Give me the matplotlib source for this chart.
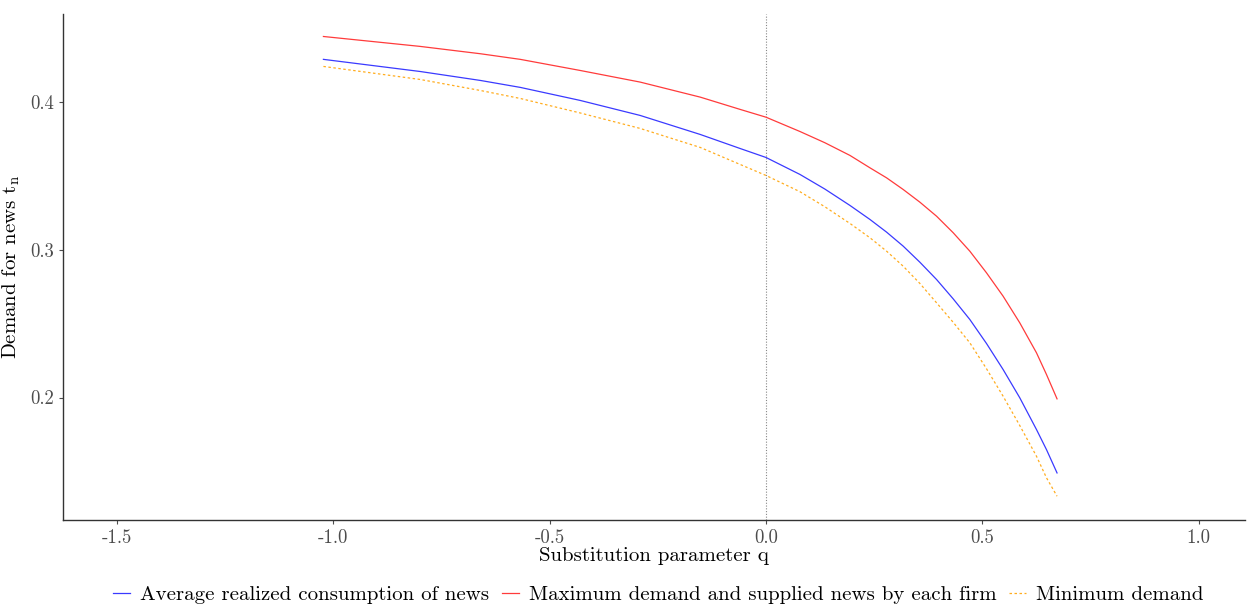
import numpy as np
import matplotlib
matplotlib.use('Agg')
from matplotlib import pyplot as plt

# values
q = [-1.023, -0.80, -0.66, -0.568, -0.43, -0.291, -0.152, -0.06, 0.0,
     0.0785, 0.136, 0.194, 0.2402, 0.2787, 0.3171, 0.3557, 0.3942, 0.4326, 0.4711,
     0.5097, 0.548, 0.5866, 0.6252, 0.6483, 0.6727]
avg_demand = [0.4292, 0.4210, 0.4149, 0.4102, 0.4014, 0.3912, 0.3783, 0.3688, 0.3627,
              0.3512, 0.3413, 0.3302, 0.3207, 0.3121, 0.3026, 0.2917, 0.2800, 0.2669, 0.2529,
              0.2366, 0.2190, 0.1998, 0.1783, 0.1647, 0.1489]
max_demand = [0.4447, 0.4380, 0.4330, 0.4292, 0.4217, 0.4138, 0.4036, 0.3953, 0.3900,
              0.3803, 0.3727, 0.3641, 0.3557, 0.3489, 0.3410, 0.3324, 0.3229, 0.3117, 0.2992,
              0.2845, 0.2687, 0.2506, 0.2303, 0.2156, 0.1991]
min_demand = [0.4244, 0.4156, 0.4081, 0.4027, 0.3929, 0.3824, 0.3695, 0.3580, 0.3505,
              0.3395, 0.3293, 0.3180, 0.3083, 0.2992, 0.2890, 0.2773, 0.2642, 0.2510, 0.2371,
              0.2195, 0.2009, 0.1810, 0.1602, 0.1456, 0.1331]

labels = ['Average realized consumption of news',
          'Maximum demand and supplied news by each firm',
          'Minimum demand']
xticks = [-1.5, -1.0, -0.5, 0.0, 0.5, 1.0]
yticks = [0.2, 0.3, 0.4]

plt.rcParams['font.family'] = 'cmr10'
plt.rcParams['mathtext.fontset'] = 'cm'
plt.rcParams['axes.unicode_minus'] = False
plt.rcParams['axes.formatter.use_mathtext'] = True

fig = plt.figure(figsize=(12.47, 6.05), dpi=100)
ax = fig.add_axes([0.0505, 0.1405, 0.9475, 0.8365])

ax.axvline(0, color='#888888', linestyle=(0, (1, 1.5)), linewidth=0.8)
ax.plot(q, avg_demand, color='#3a3aff', linewidth=0.9, label=labels[0])
ax.plot(q, max_demand, color='#ff3b3b', linewidth=0.9, label=labels[1])
ax.plot(q, min_demand, color='#ffad1f', linewidth=0.9, linestyle=(0, (2, 2)), label=labels[2])

ax.set_xlim(-1.625, 1.106)
ax.set_ylim(0.117, 0.460)
ax.set_xticks(xticks)
ax.set_xticklabels(['%.1f' % v for v in xticks])
ax.set_yticks(yticks)
ax.set_yticklabels(['%.1f' % v for v in yticks])

for s in ['top', 'right']:
    ax.spines[s].set_visible(False)
for s in ['left', 'bottom']:
    ax.spines[s].set_color('#333333')
    ax.spines[s].set_linewidth(1.0)
ax.tick_params(colors='#4d4d4d', labelsize=13.5, length=3, width=0.8)

ax.set_xlabel('Substitution parameter q', fontsize=15, labelpad=0)
ax.set_ylabel(r'Demand for news $\mathrm{t_n}$', fontsize=15, labelpad=6)

fig.legend(loc='lower center', bbox_to_anchor=(0.528, -0.03), ncol=3, frameon=False,
           fontsize=15, handlelength=0.8, handletextpad=0.5, columnspacing=0.6)

fig.savefig('out.png', dpi=100)
